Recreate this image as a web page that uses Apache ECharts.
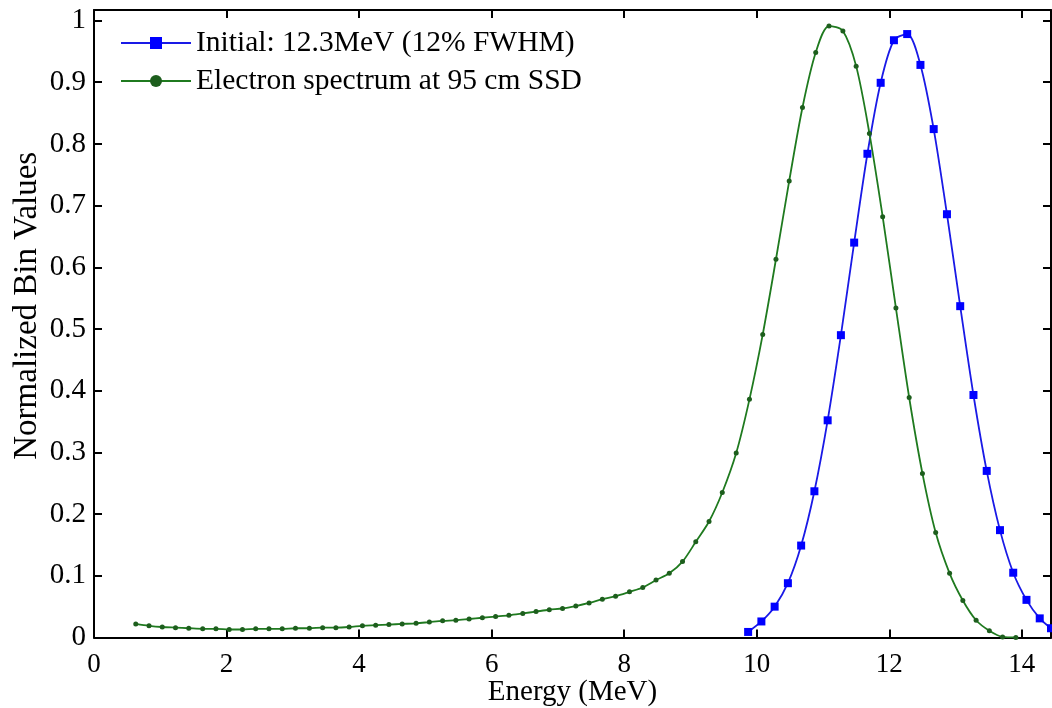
<!DOCTYPE html>
<html>
<head>
<meta charset="utf-8">
<script src="https://cdn.jsdelivr.net/npm/echarts@6/dist/echarts.min.js"></script>
<style>
html,body{margin:0;padding:0;background:#fff;}
#chart{width:1052px;height:708px;}
</style>
</head>
<body>
<div id="chart"></div>
<script>
// Initial spectrum: 12.3 MeV (12% FWHM)
const initialX = [9.87, 10.07, 10.27, 10.47, 10.67, 10.87, 11.07, 11.27, 11.47, 11.67, 11.87, 12.07,
                  12.27, 12.47, 12.67, 12.87, 13.07, 13.27, 13.47, 13.67, 13.87, 14.07, 14.27, 14.44];
const initialY = [0.009, 0.026, 0.050, 0.088, 0.149, 0.237, 0.352, 0.490, 0.640, 0.784, 0.899, 0.968,
                  0.978, 0.928, 0.824, 0.686, 0.537, 0.393, 0.270, 0.174, 0.105, 0.061, 0.031, 0.015];

// Electron spectrum at 95 cm SSD
const electronX = [0.63, 0.83, 1.03, 1.23, 1.43, 1.64, 1.84, 2.04, 2.24, 2.44, 2.64, 2.84, 3.04, 3.25,
                   3.45, 3.65, 3.85, 4.05, 4.25, 4.45, 4.65, 4.86, 5.06, 5.26, 5.46, 5.66, 5.86, 6.06,
                   6.26, 6.47, 6.67, 6.87, 7.07, 7.27, 7.47, 7.67, 7.87, 8.08, 8.28, 8.48, 8.68, 8.88,
                   9.08, 9.28, 9.48, 9.69, 9.89, 10.09, 10.29, 10.49, 10.69, 10.89, 11.09, 11.30, 11.50,
                   11.70, 11.90, 12.10, 12.30, 12.50, 12.70, 12.91, 13.11, 13.31, 13.51, 13.71, 13.91];
const electronY = [0.022, 0.019, 0.017, 0.016, 0.015, 0.014, 0.014, 0.013, 0.013, 0.014, 0.014, 0.014, 0.015, 0.015,
                   0.016, 0.016, 0.017, 0.019, 0.020, 0.021, 0.022, 0.023, 0.025, 0.027, 0.028, 0.030, 0.032, 0.034,
                   0.036, 0.039, 0.042, 0.045, 0.047, 0.051, 0.056, 0.062, 0.067, 0.074, 0.081, 0.093, 0.104, 0.123,
                   0.155, 0.188, 0.235, 0.299, 0.386, 0.491, 0.613, 0.740, 0.859, 0.948, 0.991, 0.983, 0.926,
                   0.817, 0.682, 0.534, 0.389, 0.266, 0.170, 0.104, 0.060, 0.028, 0.011, 0.001, 0.000];

const seriesNames = ['Initial: 12.3MeV (12% FWHM)', 'Electron spectrum at 95 cm SSD'];
const xTicks = [0, 2, 4, 6, 8, 10, 12, 14];
const xLabel = 'Energy (MeV)';
const yLabel = 'Normalized Bin Values';

const FONT = '"Liberation Serif", "Times New Roman", serif';
const pair = (xs, ys) => xs.map((x, i) => [x, ys[i]]);

const chart = echarts.init(document.getElementById('chart'), null, {renderer: 'canvas'});
const axisLine = {show: true, onZero: false, lineStyle: {color: '#000', width: 2}};
const tick = {show: true, inside: true, length: 8, lineStyle: {color: '#000', width: 2}};

chart.setOption({
  animation: false,
  backgroundColor: '#fff',
  grid: {left: 94, right: 1, top: 10, bottom: 70.5, containLabel: false, outerBoundsMode: 'none'},
  legend: {
    orient: 'vertical', left: 120, top: 28, padding: 0, itemWidth: 70, itemHeight: 15, itemGap: 8,
    textStyle: {fontFamily: FONT, fontSize: 29.5, color: '#000'},
    data: seriesNames
  },
  xAxis: [{
    type: 'value', min: 0, max: 14.44, interval: 2, position: 'bottom',
    name: xLabel, nameLocation: 'middle', nameGap: 40, nameMoveOverlap: false,
    nameTextStyle: {fontFamily: FONT, fontSize: 29, color: '#000'},
    axisLine: axisLine, axisTick: tick, splitLine: {show: false},
    axisLabel: {fontFamily: FONT, fontSize: 27, color: '#000', margin: 14,
      formatter: v => (xTicks.indexOf(Math.round(v * 1000) / 1000) >= 0 ? String(Math.round(v)) : '')}
  }, {
    type: 'value', min: 0, max: 14.44, interval: 2, position: 'top',
    axisLine: axisLine, axisTick: tick, splitLine: {show: false}, axisLabel: {show: false}
  }],
  yAxis: [{
    type: 'value', min: 0, max: 1.017, interval: 0.1, position: 'left',
    name: yLabel, nameLocation: 'middle', nameGap: 50, nameRotate: 90, nameMoveOverlap: false,
    nameTextStyle: {fontFamily: FONT, fontSize: 33, color: '#000', padding: [0, 0, 0, 36]},
    axisLine: axisLine, axisTick: tick, splitLine: {show: false},
    axisLabel: {fontFamily: FONT, fontSize: 29, color: '#000', margin: 8,
      formatter: v => {
        const r = Math.round(v * 10) / 10;
        if (Math.abs(v - r) > 1e-6) return '';
        return String(r);
      }}
  }, {
    type: 'value', min: 0, max: 1.017, interval: 0.1, position: 'right',
    axisLine: axisLine, axisTick: tick, splitLine: {show: false}, axisLabel: {show: false}
  }],
  series: [{
    name: seriesNames[0], type: 'line', xAxisIndex: 0, yAxisIndex: 0,
    data: pair(initialX, initialY), smooth: 0.3,
    symbol: 'rect', symbolSize: 8,
    lineStyle: {color: '#1a1ae6', width: 1.8},
    itemStyle: {color: '#0000ff'}
  }, {
    name: seriesNames[1], type: 'line', xAxisIndex: 0, yAxisIndex: 0,
    data: pair(electronX, electronY), smooth: 0.3,
    symbol: 'circle', symbolSize: 5,
    lineStyle: {color: '#1f7a1f', width: 1.8},
    itemStyle: {color: '#1d5e1d'}
  }]
});
</script>
</body>
</html>
